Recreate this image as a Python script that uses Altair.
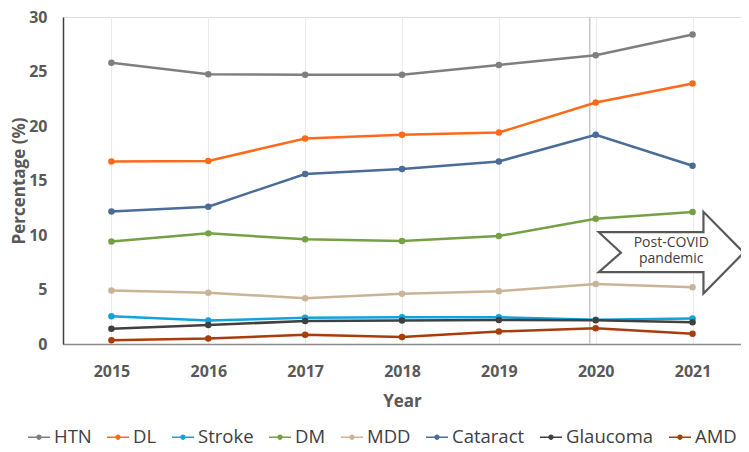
import altair as alt
import pandas as pd

years = [2015, 2016, 2017, 2018, 2019, 2020, 2021]
series_names = ["HTN", "DL", "Stroke", "DM", "MDD", "Cataract", "Glaucoma", "AMD"]
htn = [25.8, 24.75, 24.7, 24.7, 25.6, 26.5, 28.4]
dl = [16.75, 16.8, 18.85, 19.2, 19.4, 22.15, 23.9]
stroke = [2.55, 2.15, 2.4, 2.45, 2.45, 2.22, 2.35]
dm = [9.4, 10.15, 9.6, 9.45, 9.9, 11.5, 12.1]
mdd = [4.9, 4.7, 4.2, 4.6, 4.85, 5.5, 5.2]
cataract = [12.15, 12.6, 15.6, 16.05, 16.75, 19.2, 16.35]
glaucoma = [1.4, 1.75, 2.1, 2.15, 2.2, 2.18, 2.0]
amd = [0.35, 0.5, 0.85, 0.65, 1.15, 1.45, 0.95]
series_colors = ["#7f7f7f", "#ff6a1a", "#12a3dc", "#76a045", "#c9b497",
                 "#4b6c98", "#404040", "#a83c0a"]
y_ticks = [0, 5, 10, 15, 20, 25, 30]
x_grid = [2015, 2015.5, 2016, 2016.5, 2017, 2017.5, 2018, 2018.5,
          2019, 2019.5, 2020, 2020.5, 2021]
annotation_lines = ["Post-COVID", "pandemic"]

all_values = [htn, dl, stroke, dm, mdd, cataract, glaucoma, amd]
rows = []
for name, vals in zip(series_names, all_values):
    for yr, v in zip(years, vals):
        rows.append({"Year": yr, "Value": v, "Series": name})
df = pd.DataFrame(rows)
one = pd.DataFrame({"k": [0]})

FONT = "Open Sans"
AXIS_GRAY = "#595959"

legend_symbol = ("M-1,-0.075L1,-0.075L1,0.075L-1,0.075Z"
                 "M0.24,0A0.24,0.24 0 1,1 -0.24,0A0.24,0.24 0 1,1 0.24,0Z")
legend = alt.Legend(
    orient="none", direction="horizontal", legendX=-35, legendY=409,
    title=None, symbolType=legend_symbol, symbolSize=484, symbolStrokeWidth=0,
    symbolOpacity=1, labelFont=FONT, labelFontSize=18.5, labelColor="#404040",
    labelOffset=4, columnPadding=15, labelLimit=200,
)

x_enc = alt.X(
    "Year:Q",
    scale=alt.Scale(domain=[2014.5, 2021.5], nice=False, zero=False),
    axis=alt.Axis(
        values=x_grid, format="d",
        labelExpr="datum.value % 1 === 0 ? datum.label : ''",
        labelOverlap=False, grid=True, gridColor="#ebebeb", gridWidth=1,
        ticks=False, domainColor="#8c8c8c", domainWidth=1.5,
        labelFont=FONT, labelFontSize=16, labelFontWeight="bold",
        labelColor=AXIS_GRAY, labelPadding=19,
        title="Year", titleFont=FONT, titleFontSize=17, titleFontWeight="bold",
        titleColor=AXIS_GRAY, titleY=57, titleBaseline="middle",
    ),
)
y_enc = alt.Y(
    "Value:Q",
    scale=alt.Scale(domain=[0, 30], nice=False),
    axis=alt.Axis(
        values=y_ticks, grid=False, ticks=False, domainColor="#404040",
        domainWidth=1.5, labelFont=FONT, labelFontSize=16, labelFontWeight="bold",
        labelColor=AXIS_GRAY, labelPadding=16,
        title="Percentage (%)", titleFont=FONT, titleFontSize=17,
        titleFontWeight="bold", titleColor=AXIS_GRAY, titleX=-44,
        titleBaseline="middle",
    ),
)
color_enc = alt.Color("Series:N", scale=alt.Scale(domain=series_names, range=series_colors),
                      sort=series_names, legend=legend)

base = alt.Chart(df)

rule2020 = alt.Chart(one).mark_rule(color="#c8c8c8", strokeWidth=1.5, xOffset=-6).encode(
    x=alt.datum(2020)
)
lines = base.mark_line(strokeWidth=2.5).encode(
    x=x_enc, y=y_enc, color=color_enc, order=alt.Order("Year:Q"),
)
points = base.mark_point(filled=True, size=42, opacity=1).encode(
    x=x_enc, y=y_enc, color=color_enc,
)

arrow_path = ("M-1,-0.282L0.444,-0.282L0.444,-0.563L1,0L0.444,0.563"
              "L0.444,0.268L-1,0.268L-0.694,0Z")
arrow = alt.Chart(one).mark_point(
    shape=arrow_path, size=21025, filled=True, fill="white",
    stroke="#595959", strokeWidth=2.2, opacity=1, strokeJoin="miter",
).encode(x=alt.datum(2020.78), y=alt.datum(8.38))

text_style = dict(font=FONT, fontSize=14, color="#404040", align="center",
                  baseline="middle")
arrow_text1 = alt.Chart(one).mark_text(text=annotation_lines[0], dy=-8, **text_style).encode(
    x=alt.datum(2020.78), y=alt.datum(8.5))
arrow_text2 = alt.Chart(one).mark_text(text=annotation_lines[1], dy=8, **text_style).encode(
    x=alt.datum(2020.78), y=alt.datum(8.5))

chart = alt.layer(rule2020, lines, points, arrow, arrow_text1, arrow_text2).properties(
    width=678, height=327,
    padding={"left": 55, "top": 9, "right": 0, "bottom": 108},
    autosize=alt.AutoSizeParams(type="none"),
).configure_view(stroke=None).configure(background="white")

chart.save("out.html", embed_options={"renderer": "svg", "actions": False})
